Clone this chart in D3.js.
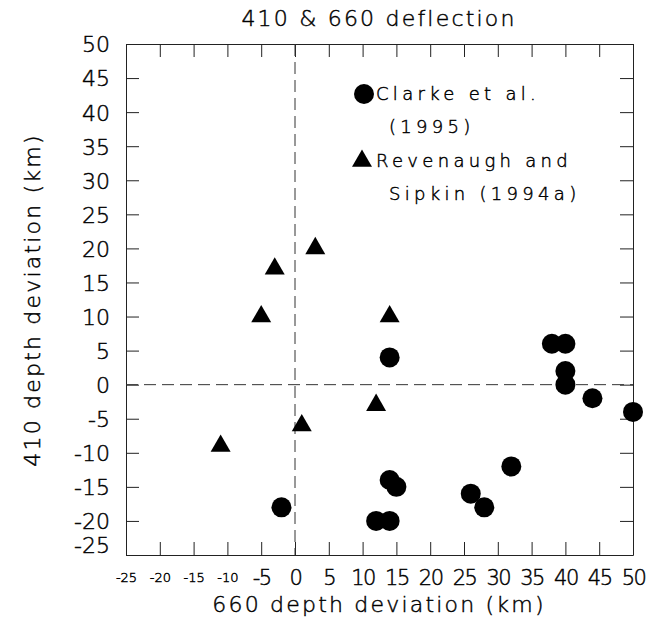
<!DOCTYPE html>
<html>
<head>
<meta charset="utf-8">
<script src="https://cdn.jsdelivr.net/npm/d3@7"></script>
<style>
  body { margin: 0; background: #fff; }
  text { font-family: "DejaVu Sans ExtraLight", "DejaVu Sans", sans-serif; font-weight: 200;
         fill: #000; stroke: #000; stroke-width: 0.45px; }
</style>
</head>
<body>
<div id="chart"></div>
<script>
// Clarke et al. (1995): [660 deviation, 410 deviation]
var clarke = [[14, 4], [38, 6], [40, 6], [40, 2], [40, 0], [44, -2], [50, -4],
              [-2, -18], [14, -14], [15, -15], [12, -20], [14, -20],
              [26, -16], [28, -18], [32, -12]];

// Revenaugh and Sipkin (1994a)
var revenaugh = [[3, 20], [-3, 17], [-5, 10], [14, 10], [12, -3], [1, -6], [-11, -9]];

var ticks = [-25, -20, -15, -10, -5, 0, 5, 10, 15, 20, 25, 30, 35, 40, 45, 50];
var legendLines = [["Clarke et al.", "(1995)"], ["Revenaugh and", "Sipkin (1994a)"]];

var w = 663;
var h = 620;

var x = d3.scaleLinear().domain([-25, 50]).range([126, 633]);
var y = d3.scaleLinear().domain([-25, 50]).range([555, 44]);

var svg = d3.select("#chart")
    .append("svg")
    .attr("width", w)
    .attr("height", h);

///////// AXES /////////
var bottom = svg.append("g")
    .attr("transform", "translate(0," + y(-25) + ")")
    .call(d3.axisBottom(x).tickValues(ticks).tickSizeInner(-13).tickSizeOuter(0)
        .tickFormat(function(d) { return d < 0 ? "-" + Math.abs(d) : d; }));

bottom.selectAll("text")
    .attr("dy", null)
    .attr("y", function(d) { return d <= -10 ? 27 : 30; })
    .style("font-size", function(d) { return d <= -10 ? "13px" : "21px"; })
    .style("letter-spacing", function(d) { return d <= -10 ? "0px" : "-1.5px"; });

var left = svg.append("g")
    .attr("transform", "translate(" + x(-25) + ",0)")
    .call(d3.axisLeft(y).tickValues(ticks).tickSizeInner(-13).tickSizeOuter(0)
        .tickFormat(function(d) { return d < 0 ? "-" + Math.abs(d) : d; }));

left.selectAll("text")
    .attr("x", -16)
    .attr("dy", function(d) { return d == -25 ? "-0.1em" : "0.36em"; })
    .style("font-size", "22px");

svg.append("g")
    .attr("transform", "translate(0," + y(50) + ")")
    .call(d3.axisTop(x).tickValues(ticks).tickSizeInner(-13).tickSizeOuter(0).tickFormat(""));

svg.append("g")
    .attr("transform", "translate(" + x(50) + ",0)")
    .call(d3.axisRight(y).tickValues(ticks).tickSizeInner(-13).tickSizeOuter(0).tickFormat(""));

svg.selectAll(".domain, .tick line")
    .attr("stroke", "#222")
    .attr("stroke-width", 1);

// zero lines
svg.append("line")
    .attr("x1", x(-25)).attr("x2", x(50))
    .attr("y1", y(0)).attr("y2", y(0))
    .attr("stroke", "#333")
    .attr("stroke-dasharray", "12,6");

svg.append("line")
    .attr("x1", x(0)).attr("x2", x(0))
    .attr("y1", y(50)).attr("y2", y(-25))
    .attr("stroke", "#333")
    .attr("stroke-dasharray", "12,6");

///////// MARKS /////////
svg.selectAll("circle.clarke")
    .data(clarke)
    .enter()
    .append("circle")
    .attr("class", "clarke")
    .attr("cx", function(d) { return x(d[0]); })
    .attr("cy", function(d) { return y(d[1]); })
    .attr("r", 10)
    .attr("fill", "#000");

var tri = d3.symbol().type(d3.symbolTriangle).size(173);

svg.selectAll("path.rev")
    .data(revenaugh)
    .enter()
    .append("path")
    .attr("class", "rev")
    .attr("d", tri)
    .attr("transform", function(d) {
        return "translate(" + x(d[0]) + "," + y(d[1]) + ")";
    })
    .attr("fill", "#000");

///////// LEGEND /////////
svg.append("circle")
    .attr("cx", 364)
    .attr("cy", 94)
    .attr("r", 10)
    .attr("fill", "#000");

svg.append("path")
    .attr("d", tri)
    .attr("transform", "translate(362,161)")
    .attr("fill", "#000");

legendLines.forEach(function(lines, i) {
    var top = 100 + i * 67;
    svg.append("text")
        .attr("x", 376)
        .attr("y", top)
        .style("font-size", "18px")
        .style("letter-spacing", "4.3px")
        .text(lines[0]);
    svg.append("text")
        .attr("x", 389)
        .attr("y", top + 33)
        .style("font-size", "18px")
        .style("letter-spacing", "4.3px")
        .text(lines[1]);
});

///////// TITLES /////////
svg.append("text")
    .attr("x", 379)
    .attr("y", 26)
    .attr("text-anchor", "middle")
    .style("font-size", "22px")
    .style("letter-spacing", "2.2px")
    .text("410 & 660 deflection");

svg.append("text")
    .attr("x", 379)
    .attr("y", 612)
    .attr("text-anchor", "middle")
    .style("font-size", "22px")
    .style("letter-spacing", "2.2px")
    .text("660 depth deviation (km)");

svg.append("text")
    .attr("transform", "translate(40,300) rotate(-90)")
    .attr("text-anchor", "middle")
    .style("font-size", "22px")
    .style("letter-spacing", "2.2px")
    .text("410 depth deviation (km)");
</script>
</body>
</html>
